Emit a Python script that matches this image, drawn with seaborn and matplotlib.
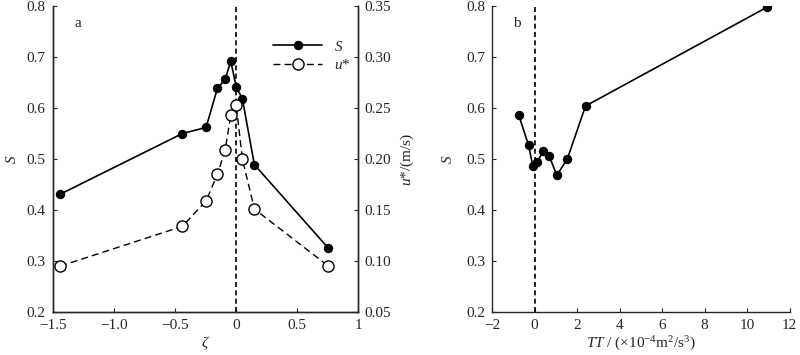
import matplotlib
matplotlib.use("Agg")
import matplotlib.pyplot as plt
import seaborn as sns
import pandas as pd

# panel a: stability parameter zeta vs S and u*
zeta = [-1.44, -0.44, -0.246, -0.153, -0.09, -0.044, 0.0, 0.051, 0.149, 0.755]
s_zeta = [0.431, 0.550, 0.562, 0.639, 0.656, 0.692, 0.642, 0.618, 0.489, 0.325]
ustar = [0.095, 0.134, 0.159, 0.185, 0.209, 0.243, 0.253, 0.200, 0.151, 0.095]

# panel b: TT vs S
tt = [-0.74, -0.28, -0.08, 0.14, 0.385, 0.69, 1.05, 1.55, 2.4, 10.95]
s_tt = [0.586, 0.527, 0.486, 0.494, 0.515, 0.506, 0.468, 0.501, 0.604, 0.798]

ax_a_xticks = [-1.5, -1.0, -0.5, 0, 0.5, 1]
ax_a_xlabels = ["\u22121.5", "\u22121.0", "\u22120.5", "0", "0.5", "1"]
s_ticks = [0.2, 0.3, 0.4, 0.5, 0.6, 0.7, 0.8]
u_ticks = [0.05, 0.10, 0.15, 0.20, 0.25, 0.30, 0.35]
ax_b_xticks = [-2, 0, 2, 4, 6, 8, 10, 12]

sns.set_style("ticks")
plt.rcParams["font.family"] = ["Liberation Serif", "DejaVu Serif"]
plt.rcParams["mathtext.fontset"] = "custom"
plt.rcParams["mathtext.rm"] = "Liberation Serif"
plt.rcParams["mathtext.it"] = "Liberation Serif:italic"
plt.rcParams["font.size"] = 11
plt.rcParams["xtick.direction"] = "in"
plt.rcParams["ytick.direction"] = "in"
plt.rcParams["xtick.major.size"] = 3
plt.rcParams["ytick.major.size"] = 3
plt.rcParams["xtick.major.pad"] = 5
plt.rcParams["ytick.major.pad"] = 5
plt.rcParams["axes.linewidth"] = 1.0

df_a = pd.DataFrame({"zeta": zeta, "S": s_zeta, "u": ustar})
df_b = pd.DataFrame({"TT": tt, "S": s_tt})

fig = plt.figure(figsize=(8, 3.55), dpi=100)
ax1 = fig.add_axes([0.066, 0.121, 0.382, 0.862])
ax3 = fig.add_axes([0.615, 0.121, 0.372, 0.862])

# panel a
ax1.axvline(0, color="black", linestyle=(0, (3, 2)), linewidth=1.2, zorder=1)
sns.lineplot(data=df_a, x="zeta", y="S", ax=ax1, color="black", linewidth=1.2,
             marker="o", markersize=6, markerfacecolor="black",
             markeredgecolor="black", legend=False, zorder=3)
ax2 = ax1.twinx()
sns.lineplot(data=df_a, x="zeta", y="u", ax=ax2, color="black", linewidth=1.0,
             marker="o", markersize=8, markerfacecolor="white",
             markeredgecolor="black", markeredgewidth=1.0,
             legend=False, zorder=3)
ax2.lines[0].set_linestyle((0, (5, 3)))

ax1.set_xlim(-1.5, 1)
ax1.set_ylim(0.2, 0.8)
ax2.set_ylim(0.05, 0.35)
ax1.set_xticks(ax_a_xticks, ax_a_xlabels)
ax1.set_yticks(s_ticks, [f"{v:.1f}" for v in s_ticks])
ax2.set_yticks(u_ticks, [f"{v:.2f}" for v in u_ticks])
ax2.tick_params(axis="y", pad=4)
ax1.set_xlabel("$\\zeta$", labelpad=2)
ax1.set_ylabel("$S$", labelpad=6)
ax2.set_ylabel("$u$*/(m/s)", labelpad=6)
ax1.text(0.07, 0.93, "a", transform=ax1.transAxes, fontsize=11)
for ax in (ax1, ax2):
    ax.spines["top"].set_visible(False)

handles = ax1.lines[1:2] + ax2.lines[:1]
ax1.legend(handles, ["$S$", "$u$*"], loc="upper right", bbox_to_anchor=(1.02, 0.935),
           frameon=False, handlelength=3.2, fontsize=11, labelspacing=0.3)

# panel b
ax3.axvline(0, color="black", linestyle=(0, (3, 2)), linewidth=1.2, zorder=1)
sns.lineplot(data=df_b, x="TT", y="S", ax=ax3, color="black", linewidth=1.2,
             marker="o", markersize=6, markerfacecolor="black",
             markeredgecolor="black", zorder=3)
ax3.set_xlim(-2, 12)
ax3.set_ylim(0.2, 0.8)
ax3.set_xticks(ax_b_xticks, [str(v).replace("-", "\u2212") for v in ax_b_xticks])
ax3.set_yticks(s_ticks, [f"{v:.1f}" for v in s_ticks])
ax3.set_xlabel("$TT$ / (\u00d710$^{-4}$m$^{2}$/s$^{3}$)", labelpad=2)
ax3.set_ylabel("$S$", labelpad=8)
ax3.text(0.07, 0.93, "b", transform=ax3.transAxes, fontsize=11)
sns.despine(ax=ax3)

fig.savefig("out.png", dpi=100)
